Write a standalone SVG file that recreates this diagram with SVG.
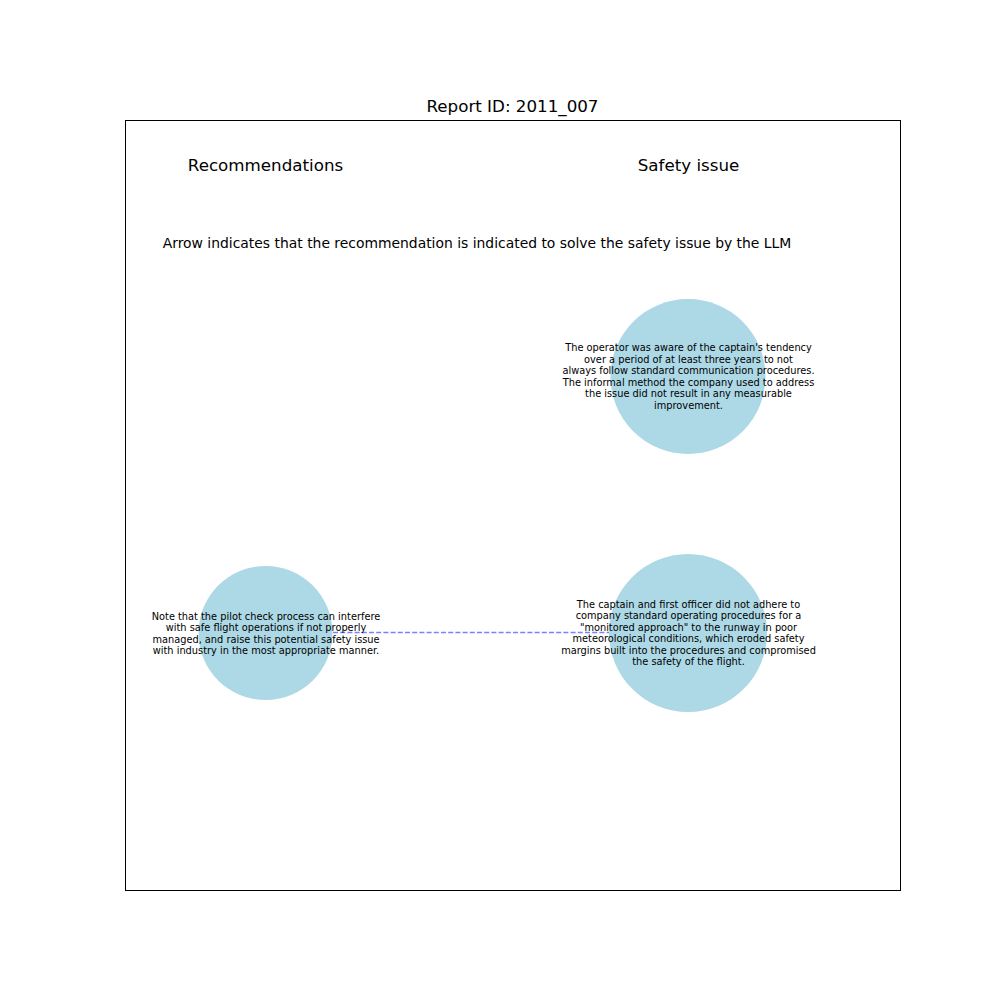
<svg xmlns="http://www.w3.org/2000/svg" width="1000" height="1000" viewBox="0 0 1000 1000">
<style>
text{font-family:"DejaVu Sans",sans-serif;fill:#000;text-anchor:middle;dominant-baseline:central}
.h{font-size:16.7px}
.s{font-size:13.9px}
.n{font-size:9.8px}
circle{fill:#add8e6}
</style>
<rect width="1000" height="1000" fill="#fff"/>
<rect x="125.5" y="120.5" width="775" height="770" fill="none" stroke="#000" stroke-width="1"/>
<text class="h" x="512.5" y="106">Report ID: 2011_007</text>
<text class="h" x="265.5" y="165">Recommendations</text>
<text class="h" x="688.5" y="165">Safety issue</text>
<text class="s" x="477" y="243">Arrow indicates that the recommendation is indicated to solve the safety issue by the LLM</text>
<g id="node-rec1"><circle cx="265.5" cy="633" r="67"/></g>
<g id="node-issue1"><circle cx="688" cy="376.5" r="77.5"/></g>
<g id="node-issue2"><circle cx="688" cy="633" r="79"/></g>
<g id="connectors"><line x1="333" y1="632.5" x2="609" y2="632.5" stroke="#0000ff" stroke-opacity="0.5" stroke-width="1.3" stroke-dasharray="5,2.2"/></g>
<g id="labels">
<text class="n" x="266" y="616">Note that the pilot check process can interfere</text>
<text class="n" x="266" y="627.5">with safe flight operations if not properly</text>
<text class="n" x="266" y="639">managed, and raise this potential safety issue</text>
<text class="n" x="266" y="650.5">with industry in the most appropriate manner.</text>
<text class="n" x="688.5" y="347.5">The operator was aware of the captain's tendency</text>
<text class="n" x="688.5" y="359">over a period of at least three years to not</text>
<text class="n" x="688.5" y="370.5">always follow standard communication procedures.</text>
<text class="n" x="688.5" y="382">The informal method the company used to address</text>
<text class="n" x="688.5" y="393.5">the issue did not result in any measurable</text>
<text class="n" x="688.5" y="405">improvement.</text>
<text class="n" x="688.5" y="604">The captain and first officer did not adhere to</text>
<text class="n" x="688.5" y="615.5">company standard operating procedures for a</text>
<text class="n" x="688.5" y="627">"monitored approach" to the runway in poor</text>
<text class="n" x="688.5" y="638.5">meteorological conditions, which eroded safety</text>
<text class="n" x="688.5" y="650">margins built into the procedures and compromised</text>
<text class="n" x="688.5" y="661.5">the safety of the flight.</text>
</g>
</svg>
